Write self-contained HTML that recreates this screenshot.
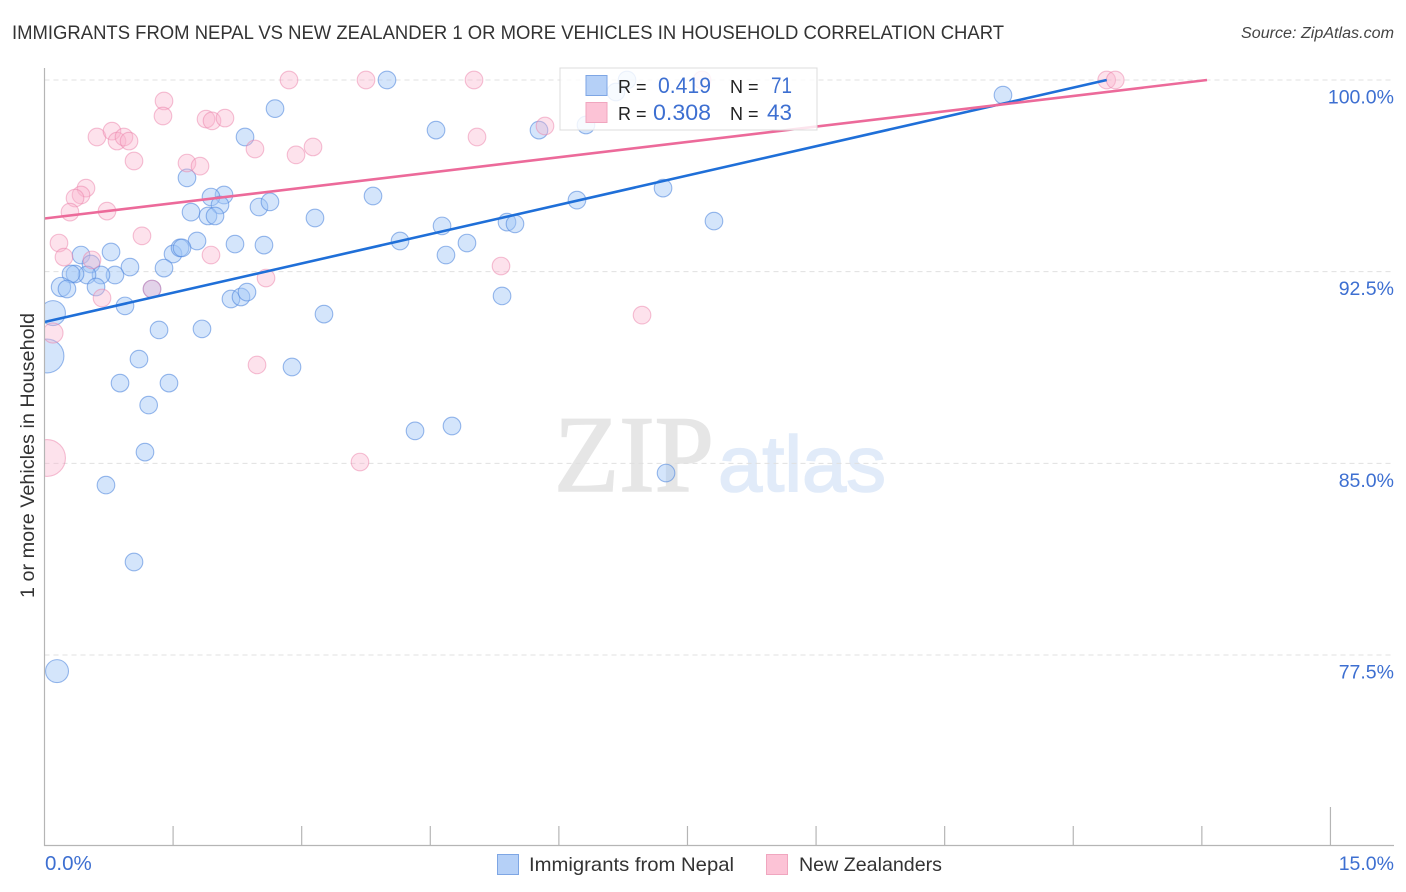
<!DOCTYPE html>
<html lang="en">
<head>
<meta charset="utf-8">
<title>Immigrants from Nepal vs New Zealander 1 or more Vehicles in Household Correlation Chart</title>
<style>
html,body{margin:0;padding:0;background:#fff;width:1406px;height:892px;overflow:hidden}
svg{display:block;font-family:"Liberation Sans",sans-serif}
</style>
</head>
<body>
<svg id="chart" width="1406" height="892" viewBox="0 0 1406 892" xmlns="http://www.w3.org/2000/svg">
  <text x="12" y="39" font-size="19.5" fill="#333" textLength="992" lengthAdjust="spacingAndGlyphs">IMMIGRANTS FROM NEPAL VS NEW ZEALANDER 1 OR MORE VEHICLES IN HOUSEHOLD CORRELATION CHART</text>
  <text x="1394" y="38" font-size="15.5" font-style="italic" fill="#444" text-anchor="end" textLength="153" lengthAdjust="spacingAndGlyphs">Source: ZipAtlas.com</text>

  <g>
    <text x="554" y="491" font-family="'Liberation Serif',serif" font-size="109" fill="#e6e6e6" stroke="#e6e6e6" stroke-width="1.6" textLength="160" lengthAdjust="spacingAndGlyphs">ZIP</text>
    <text x="718" y="491" font-family="'Liberation Sans',sans-serif" font-size="79" fill="#e1ebf9" stroke="#e1ebf9" stroke-width="1.6" textLength="168" lengthAdjust="spacingAndGlyphs">atlas</text>
  </g>

  <g id="grid"></g>
  <g id="points"></g>
  <rect x="0" y="60" width="44.5" height="786" fill="#fff"/>
  <g id="trends"></g>
  <g id="axes">
    <line x1="44.5" y1="68" x2="44.5" y2="846" stroke="#b5b5b5" stroke-width="1.2"/>
    <line x1="44" y1="845.5" x2="1394" y2="845.5" stroke="#b5b5b5" stroke-width="1.2"/>
  </g>
  <g id="x-ticks"></g>
  <g id="y-labels"></g>
  <text transform="translate(34,598) rotate(-90)" font-size="19" fill="#333" textLength="285" lengthAdjust="spacingAndGlyphs">1 or more Vehicles in Household</text>

  <g>
    <rect x="560" y="68" width="257" height="62" fill="#fff" fill-opacity="0.82" stroke="#dcdcdc" stroke-width="1"/>
    <rect x="586" y="75.5" width="21" height="20" fill="#b5d0f7" stroke="#7ea6e4" stroke-width="1"/>
    <rect x="586" y="102.5" width="21" height="20" fill="#fcc3d6" stroke="#f0a6bf" stroke-width="1"/>
    <text x="618" y="93" font-size="18" fill="#222">R =</text>
    <text x="658" y="93" font-size="22" fill="#3d6fd1" textLength="53" lengthAdjust="spacingAndGlyphs">0.419</text>
    <text x="730" y="93" font-size="18" fill="#222">N =</text>
    <text x="771" y="93" font-size="22" fill="#3d6fd1" textLength="21" lengthAdjust="spacingAndGlyphs">71</text>
    <text x="618" y="120" font-size="18" fill="#222">R =</text>
    <text x="653" y="120" font-size="22" fill="#3d6fd1" textLength="58" lengthAdjust="spacingAndGlyphs">0.308</text>
    <text x="730" y="120" font-size="18" fill="#222">N =</text>
    <text x="767" y="120" font-size="22" fill="#3d6fd1" textLength="25" lengthAdjust="spacingAndGlyphs">43</text>
  </g>

  <g>
    <rect x="497.5" y="854.5" width="21" height="20" fill="#b5d0f7" stroke="#7ea6e4" stroke-width="1"/>
    <text x="529" y="871" font-size="19.5" fill="#333" textLength="205" lengthAdjust="spacingAndGlyphs">Immigrants from Nepal</text>
    <rect x="766.5" y="854.5" width="21" height="20" fill="#fcc3d6" stroke="#f0a6bf" stroke-width="1"/>
    <text x="799" y="871" font-size="19.5" fill="#333" textLength="143" lengthAdjust="spacingAndGlyphs">New Zealanders</text>
  </g>
</svg>
<script>
const xTickValues = [0, 1.5, 3, 4.5, 6, 7.5, 9, 10.5, 12, 13.5, 15];
const xTickLabels = ["0.0%", "", "", "", "", "", "", "", "", "", "15.0%"];
const yTickValues = [100, 92.5, 85, 77.5];
const yTickLabels = ["100.0%", "92.5%", "85.0%", "77.5%"];

const nepalX = [3.995, 6.795, 6.666, 6.316, 11.18, 2.689, 4.567, 5.768, 2.339, 1.662, 7.215, 3.832, 6.211, 2.094, 1.942, 2.047, 1.709, 1.907, 1.989, 2.502, 2.630, 3.155, 7.809, 5.395, 5.488, 4.637, 4.147, 4.928, 4.683, 5.337, 1.779, 2.222, 2.560, 1.499, 1.581, 1.604, 1.394, 0.776, 0.997, 0.426, 0.542, 0.822, 0.659, 0.496, 0.356, 0.309, 0.192, 0.262, 0.601, 0.939, 1.254, 2.175, 2.292, 2.362, 3.260, 1.336, 1.837, 0.099, 0.029, 1.102, 2.887, 0.881, 1.452, 1.215, 4.322, 4.753, 1.172, 7.250, 0.717, 1.044, 0.146];
const nepalY = [100, 100, 99.53, 98.24, 99.41, 98.88, 98.04, 98.04, 97.77, 96.17, 95.77, 95.46, 95.30, 95.50, 95.42, 95.11, 94.83, 94.68, 94.68, 95.03, 95.23, 94.60, 94.48, 94.44, 94.37, 94.29, 93.70, 93.62, 93.15, 91.55, 93.70, 93.58, 93.54, 93.19, 93.43, 93.43, 92.64, 93.27, 92.68, 93.15, 92.80, 92.37, 92.37, 92.37, 92.41, 92.41, 91.90, 91.82, 91.90, 91.16, 91.82, 91.43, 91.51, 91.70, 90.84, 90.22, 90.26, 90.88, 89.20, 89.08, 88.77, 88.14, 88.14, 87.28, 86.27, 86.46, 85.44, 84.62, 84.15, 81.14, 76.87];
const nepalWeight = [1, 1, 1, 1, 1, 1, 1, 1, 1, 1, 1, 1, 1, 1, 1, 1, 1, 1, 1, 1, 1, 1, 1, 1, 1, 1, 1, 1, 1, 1, 1, 1, 1, 1, 1, 1, 1, 1, 1, 1, 1, 1, 1, 1, 1, 1, 1.2, 1, 1, 1, 1, 1, 1, 1, 1, 1, 1, 2, 3.7, 1, 1, 1, 1, 1, 1, 1, 1, 1, 1, 1, 1.7];

const zealandX = [2.852, 1.394, 1.382, 1.884, 1.954, 2.105, 0.612, 0.787, 0.846, 0.927, 0.986, 2.455, 2.934, 3.132, 1.044, 1.662, 1.814, 0.484, 0.426, 0.356, 0.297, 0.729, 1.137, 0.169, 0.227, 0.554, 1.942, 2.584, 0.671, 1.254, 0.099, 0.029, 3.75, 5.01, 5.045, 5.838, 5.325, 6.970, 2.479, 3.680, 12.39, 12.49, 7.67];
const zealandY = [100, 99.18, 98.59, 98.47, 98.40, 98.51, 97.77, 98.00, 97.61, 97.77, 97.61, 97.30, 97.07, 97.38, 96.83, 96.75, 96.63, 95.77, 95.50, 95.38, 94.83, 94.87, 93.90, 93.62, 93.07, 92.96, 93.15, 92.25, 91.47, 91.82, 90.10, 85.21, 100, 100, 97.77, 98.20, 92.72, 90.80, 88.85, 85.05, 100, 100, 100];
const zealandWeight = [1, 1, 1, 1, 1, 1, 1, 1, 1, 1, 1, 1, 1, 1, 1, 1, 1, 1, 1, 1, 1, 1, 1, 1, 1, 1, 1, 1, 1, 1, 1.3, 4.4, 1, 1, 1, 1, 1, 1, 1, 1, 1, 1, 1];

const nepalTrendX = [0, 12.39];
const nepalTrendY = [90.53, 100];
const zealandTrendX = [0, 13.56];
const zealandTrendY = [94.58, 100];

const NS = 'http://www.w3.org/2000/svg';
const xScale = v => 44.5 + v * 85.73;
const yScale = v => 80 + (100 - v) * 25.556;
const radius = w => 8.8 * Math.sqrt(w);

function make(tag, parent, props) {
  const el = document.createElementNS(NS, tag);
  Object.keys(props).forEach(k => el.setAttribute(k, props[k]));
  parent.appendChild(el);
  return el;
}

const gridG = document.getElementById('grid');
const yLabelG = document.getElementById('y-labels');
yTickValues.forEach((v, i) => {
  const line = make('line', gridG, {x1: 44.5, x2: 1394, y1: yScale(v), y2: yScale(v), stroke: '#e0e0e0', 'stroke-width': 1, 'stroke-dasharray': '5 4'});
  
  
  const label = make('text', yLabelG, {x: 1394, y: yScale(v) + 23.5, 'font-size': 19.5, fill: '#3d6fd1', 'text-anchor': 'end'});
  label.textContent = yTickLabels[i];
  
  
});

const xTickG = document.getElementById('x-ticks');
xTickValues.forEach((v, i) => {
  const isEnd = i === xTickValues.length - 1;
  if (i > 0) {
    const tick = make('line', xTickG, {x1: xScale(v), x2: xScale(v), y1: 845, y2: isEnd ? 807 : 826, stroke: '#b5b5b5', 'stroke-width': 1.2});
    
    
  }
  if (xTickLabels[i]) {
    const label = make('text', xTickG, {x: i === 0 ? 45 : 1394, y: 870, 'font-size': i === 0 ? 20.5 : 19.5, fill: '#3d6fd1', 'text-anchor': i === 0 ? 'start' : 'end'});
    label.textContent = xTickLabels[i];
    
    
  }
});

const pointG = document.getElementById('points');
nepalX.forEach((v, i) => {
  const c = make('circle', pointG, {cx: xScale(v), cy: yScale(nepalY[i]), r: radius(nepalWeight[i]), fill: 'rgba(160,197,247,0.45)', stroke: 'rgba(80,135,220,0.58)', 'stroke-width': 1.1});
  
  
});
zealandX.forEach((v, i) => {
  const c = make('circle', pointG, {cx: xScale(v), cy: yScale(zealandY[i]), r: radius(zealandWeight[i]), fill: 'rgba(250,180,205,0.38)', stroke: 'rgba(236,130,170,0.5)', 'stroke-width': 1.1});
  
  
});

const trendG = document.getElementById('trends');
const blueTrend = make('line', trendG, {x1: xScale(nepalTrendX[0]), y1: yScale(nepalTrendY[0]), x2: xScale(nepalTrendX[1]), y2: yScale(nepalTrendY[1]), stroke: '#1f6fd8', 'stroke-width': 2.6});


const pinkTrend = make('line', trendG, {x1: xScale(zealandTrendX[0]), y1: yScale(zealandTrendY[0]), x2: xScale(zealandTrendX[1]), y2: yScale(zealandTrendY[1]), stroke: '#ec6a9a', 'stroke-width': 2.6});


</script>
</body>
</html>
